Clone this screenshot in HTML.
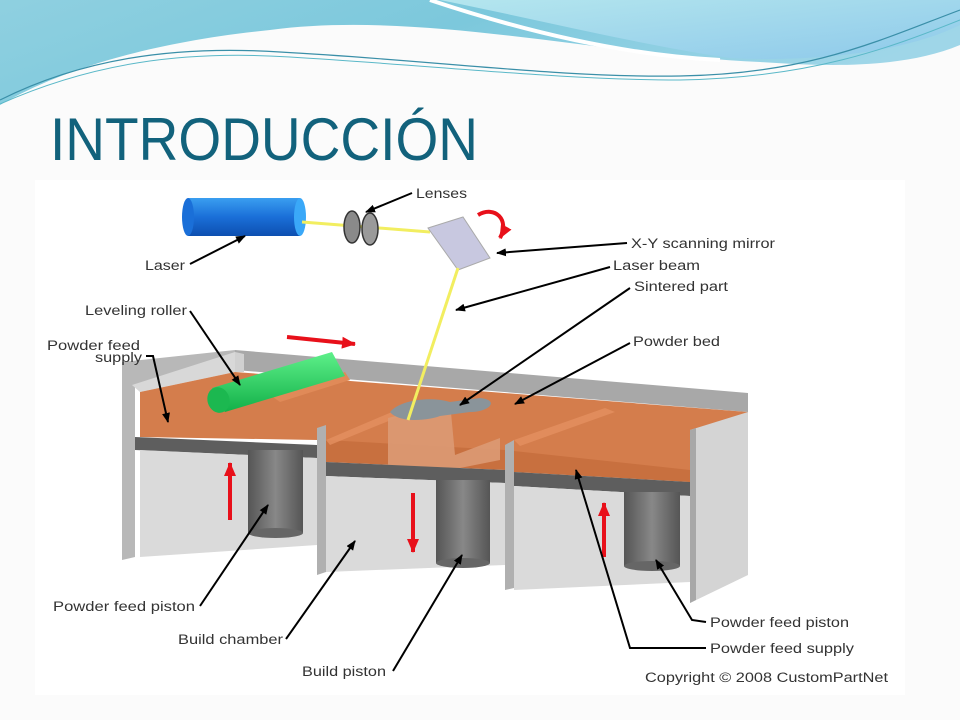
<!DOCTYPE html>
<html><head><meta charset="utf-8"><style>
html,body{margin:0;padding:0;background:#fff;}
svg{display:block;}
text{font-family:"Liberation Sans",Arial,sans-serif;}
</style></head><body>
<svg width="960" height="720" viewBox="0 0 960 720" xmlns="http://www.w3.org/2000/svg">
<defs>
<linearGradient id="bl" x1="0" y1="0" x2="1" y2="0.3">
<stop offset="0" stop-color="#8fd0e0"/><stop offset="0.5" stop-color="#7cc8dc"/><stop offset="1" stop-color="#9fd6e8"/></linearGradient>
<linearGradient id="bl2" x1="0" y1="0" x2="1" y2="1">
<stop offset="0" stop-color="#b4e6ee"/><stop offset="1" stop-color="#8ec9ea"/></linearGradient>
<linearGradient id="las" x1="0" y1="0" x2="0" y2="1">
<stop offset="0" stop-color="#3a9ef0"/><stop offset="0.5" stop-color="#1a6fd8"/><stop offset="1" stop-color="#0d4fb0"/></linearGradient>
<linearGradient id="grn" x1="0" y1="0" x2="0" y2="1">
<stop offset="0" stop-color="#5ef08a"/><stop offset="1" stop-color="#12b048"/></linearGradient>
<linearGradient id="pis" x1="0" y1="0" x2="1" y2="0">
<stop offset="0" stop-color="#555"/><stop offset="0.5" stop-color="#888"/><stop offset="1" stop-color="#555"/></linearGradient>
<marker id="ah" markerWidth="10" markerHeight="8" refX="9" refY="4" orient="auto" markerUnits="userSpaceOnUse"><path d="M0,0 L10,4 L0,8 Z" fill="#000"/></marker>
<marker id="rh" markerWidth="14" markerHeight="12" refX="13" refY="6" orient="auto" markerUnits="userSpaceOnUse"><path d="M0,0 L14,6 L0,12 Z" fill="#e8101a"/></marker>
</defs>
<rect width="960" height="720" fill="#fbfbfb"/>
<!-- banner -->
<path d="M0,0 H960 V45 C900,70 820,66 760,62 C600,55 420,10 270,30 C150,42 60,70 0,105 Z" fill="url(#bl)"/>
<path d="M440,0 H960 V25 C900,55 800,62 730,58 C640,45 540,20 440,0 Z" fill="url(#bl2)"/>
<path d="M430,0 C520,30 620,55 720,60" fill="none" stroke="#fff" stroke-width="4"/>
<path d="M0,100 C80,60 170,45 280,52 C430,60 560,78 680,76 C810,74 880,40 960,10" fill="none" stroke="#3a8fa8" stroke-width="1.2"/>
<path d="M0,104 C90,64 180,50 290,57 C440,66 560,80 680,80 C810,78 890,48 960,20" fill="none" stroke="#5ab8c8" stroke-width="1"/>
<text x="50" y="160" font-size="60" fill="#12627c" textLength="428" lengthAdjust="spacingAndGlyphs">INTRODUCCIÓN</text>
<!-- diagram area -->
<rect x="35" y="180" width="870" height="515" fill="#fff"/>
<!-- back wall -->
<polygon points="235,350 748,393 748,412 235,370" fill="#a8a8a8"/>
<polygon points="235,352 244,354 244,372 235,372" fill="#d0d0d0"/>
<!-- left wall -->
<polygon points="122,362 235,350 235,370 135,385 135,557 122,560" fill="#b8b8b8"/>
<polygon points="132,385 235,352 235,372 140,392" fill="#d8d8d8"/>
<!-- powder surface -->
<polygon points="140,392 235,372 748,412 748,470 690,482 514,470 505,462 326,458 317,440 140,437" fill="#d47d4c"/>
<polygon points="326,440 505,450 690,470 690,482 514,472 505,470 326,462" fill="#c8703f"/>
<polygon points="270,395 345,372 350,380 280,402" fill="#e08a58"/>
<polygon points="514,440 605,408 615,412 520,446" fill="#e39060" opacity="0.8"/>
<polygon points="326,440 420,400 430,404 330,445" fill="#e39060" opacity="0.8"/>
<!-- sintered part -->
<polygon points="388,418 450,402 455,455 500,438 500,460 440,472 388,468" fill="#dc9a74" opacity="0.9"/>
<path d="M390,412 C400,400 430,396 450,402 L480,398 C500,400 490,412 470,412 L440,416 C430,420 400,424 390,412 Z" fill="#8a949a"/>
<!-- dark bands -->
<polygon points="135,437 317,445 317,458 135,450" fill="#5e5e5e"/>
<polygon points="326,462 505,470 505,483 326,476" fill="#5e5e5e"/>
<polygon points="514,472 690,482 690,496 514,486" fill="#5e5e5e"/>
<!-- lower panels -->
<polygon points="140,450 317,458 317,545 140,557" fill="#dadada"/>
<polygon points="326,476 505,483 505,565 326,572" fill="#dadada"/>
<polygon points="514,486 690,496 690,582 514,590" fill="#dadada"/>
<!-- pistons -->
<rect x="248" y="450" width="55" height="83" fill="url(#pis)"/><ellipse cx="275.5" cy="533" rx="27.5" ry="5" fill="#666"/>
<rect x="436" y="480" width="54" height="83" fill="url(#pis)"/><ellipse cx="463" cy="563" rx="27" ry="5" fill="#666"/>
<rect x="624" y="492" width="56" height="74" fill="url(#pis)"/><ellipse cx="652" cy="566" rx="28" ry="5" fill="#666"/>
<!-- dividers -->
<polygon points="317,428 326,425 326,572 317,575" fill="#b0b0b0"/>
<polygon points="505,445 514,440 514,588 505,590" fill="#b0b0b0"/>
<!-- right wall -->
<polygon points="690,430 748,412 748,575 690,603" fill="#d4d4d4"/>
<polygon points="690,430 696,428 696,600 690,603" fill="#a8a8a8"/>
<!-- roller -->
<polygon points="212,388 332,352 345,376 225,412" fill="url(#grn)"/>
<ellipse cx="218.5" cy="400" rx="11" ry="13" fill="#1cb850" transform="rotate(-17 218.5 400)"/>
<!-- laser -->
<rect x="188" y="198" width="112" height="38" fill="url(#las)"/>
<ellipse cx="188" cy="217" rx="6" ry="19" fill="#1a6fd8"/>
<ellipse cx="300" cy="217" rx="6" ry="19" fill="#3aa8f8"/>
<line x1="302" y1="222" x2="430" y2="232" stroke="#f2ee60" stroke-width="3"/>
<ellipse cx="352" cy="227" rx="8" ry="16" fill="#8a8a8a" stroke="#333" stroke-width="1.5"/>
<ellipse cx="370" cy="229" rx="8" ry="16" fill="#9a9a9a" stroke="#333" stroke-width="1.5"/>
<polygon points="428,228 463,217 490,258 458,270" fill="#c8c8e0" stroke="#aaa"/>
<line x1="458" y1="268" x2="408" y2="420" stroke="#f2ee60" stroke-width="3"/>
<!-- red arrows -->
<path d="M478,215 C495,205 510,220 500,238" fill="none" stroke="#e8101a" stroke-width="4" marker-end="url(#rh)"/>
<line x1="287" y1="337" x2="355" y2="344" stroke="#e8101a" stroke-width="4" marker-end="url(#rh)"/>
<line x1="230" y1="520" x2="230" y2="463" stroke="#e8101a" stroke-width="4" marker-end="url(#rh)"/>
<line x1="413" y1="493" x2="413" y2="552" stroke="#e8101a" stroke-width="4" marker-end="url(#rh)"/>
<line x1="604" y1="557" x2="604" y2="503" stroke="#e8101a" stroke-width="4" marker-end="url(#rh)"/>
<!-- labels -->
<g font-size="13.5" fill="#333" lengthAdjust="spacingAndGlyphs">
<text x="416" y="198" textLength="51" lengthAdjust="spacingAndGlyphs">Lenses</text>
<text x="145" y="270" textLength="40" lengthAdjust="spacingAndGlyphs">Laser</text>
<text x="631" y="248" textLength="144" lengthAdjust="spacingAndGlyphs">X-Y scanning mirror</text>
<text x="613" y="270" textLength="87" lengthAdjust="spacingAndGlyphs">Laser beam</text>
<text x="634" y="291" textLength="94" lengthAdjust="spacingAndGlyphs">Sintered part</text>
<text x="633" y="346" textLength="87" lengthAdjust="spacingAndGlyphs">Powder bed</text>
<text x="85" y="315" textLength="102" lengthAdjust="spacingAndGlyphs">Leveling roller</text>
<text x="47" y="350" textLength="93" lengthAdjust="spacingAndGlyphs">Powder feed</text>
<text x="95" y="362" textLength="47" lengthAdjust="spacingAndGlyphs">supply</text>
<text x="53" y="611" textLength="142" lengthAdjust="spacingAndGlyphs">Powder feed piston</text>
<text x="178" y="644" textLength="105" lengthAdjust="spacingAndGlyphs">Build chamber</text>
<text x="302" y="676" textLength="84" lengthAdjust="spacingAndGlyphs">Build piston</text>
<text x="710" y="627" textLength="139" lengthAdjust="spacingAndGlyphs">Powder feed piston</text>
<text x="710" y="653" textLength="144" lengthAdjust="spacingAndGlyphs">Powder feed supply</text>
<text x="645" y="682" textLength="243" lengthAdjust="spacingAndGlyphs">Copyright © 2008 CustomPartNet</text>
</g>
<g stroke="#000" stroke-width="2" fill="none" marker-end="url(#ah)">
<line x1="412" y1="193" x2="366" y2="212"/>
<line x1="190" y1="264" x2="245" y2="236"/>
<line x1="627" y1="243" x2="497" y2="253"/>
<line x1="610" y1="267" x2="456" y2="310"/>
<line x1="630" y1="288" x2="460" y2="405"/>
<line x1="630" y1="343" x2="515" y2="404"/>
<line x1="190" y1="311" x2="240" y2="385"/>
<polyline points="146,356 153,356 168,422"/>
<line x1="200" y1="606" x2="268" y2="505"/>
<line x1="286" y1="639" x2="355" y2="541"/>
<line x1="393" y1="671" x2="462" y2="555"/>
<polyline points="706,622 692,620 656,560"/>
<polyline points="706,648 630,648 576,470"/>
</g>
</svg>
</body></html>
